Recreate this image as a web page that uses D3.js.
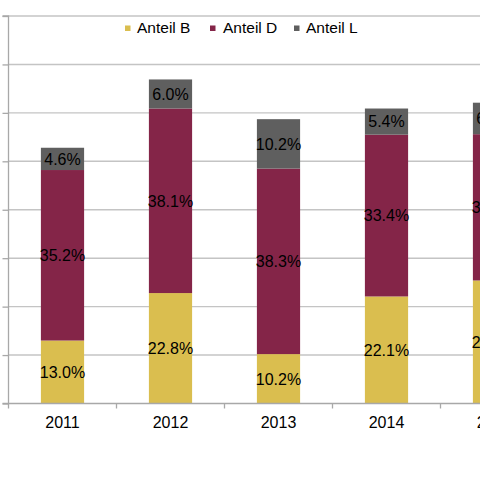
<!DOCTYPE html>
<html>
<head>
<meta charset="utf-8">
<script src="https://cdn.jsdelivr.net/npm/d3@7/dist/d3.min.js"></script>
<style>
html,body{margin:0;padding:0;background:#fff;overflow:hidden;}
svg{display:block;font-family:"Liberation Sans",Arial,sans-serif;}
</style>
</head>
<body>
<svg id="chart" width="480" height="480"></svg>
<script>
const years = ["2011","2012","2013","2014","2015"];
const anteilB = [13.0,22.8,10.2,22.1,25.4];
const anteilD = [35.2,38.1,38.3,33.4,30.2];
const anteilL = [4.6,6.0,10.2,5.4,6.5];
const seriesNames = ["Anteil B","Anteil D","Anteil L"];
const seriesColors = ["#DABE4F","#842548","#5F5F5F"];
const yTicks = [0,10,20,30,40,50,60,70,80];

(function(){
const svg = d3.select("#chart");
const plotLeft = 8.5, plotTop = 16, plotBottom = 403.5, step = 108;

const x = d3.scaleBand().domain(years)
  .range([plotLeft, plotLeft + step*years.length])
  .paddingInner(0.6).paddingOuter(0.3);
const y = d3.scaleLinear().domain([0,80]).range([plotBottom, plotTop]);

// gridlines
svg.append("g").selectAll("line").data(yTicks.filter(d=>d>0)).join("line")
  .attr("x1", plotLeft).attr("x2", 480)
  .attr("y1", d=>y(d)).attr("y2", d=>y(d))
  .attr("stroke","#c4c4c4").attr("stroke-width",1.4);

// stacked data
const table = years.map((yr,i)=>({year:yr, "Anteil B":anteilB[i], "Anteil D":anteilD[i], "Anteil L":anteilL[i]}));
const stack = d3.stack().keys(seriesNames)(table);

const fmt = v => v.toFixed(1) + "%";

stack.forEach((layer, si) => {
  const g = svg.append("g");
  g.selectAll("rect").data(layer).join("rect")
    .attr("x", d=>x(d.data.year))
    .attr("width", x.bandwidth())
    .attr("y", d=>y(d[1]))
    .attr("height", d=>y(d[0]) - y(d[1]))
    .attr("fill", seriesColors[si]);
  g.selectAll("text").data(layer).join("text")
    .attr("x", d=>x(d.data.year) + x.bandwidth()/2)
    .attr("y", d=>(y(d[0]) + y(d[1]))/2)
    .attr("dy","0.36em")
    .attr("text-anchor","middle")
    .attr("font-size","16px")
    .attr("fill","#000")
    .text(d=>fmt(d[1]-d[0]));
});

// left axis
const yAxis = d3.axisLeft(y).tickValues(yTicks).tickSize(6).tickFormat("");
const ga = svg.append("g").attr("transform",`translate(${plotLeft},0)`).call(yAxis);
ga.selectAll("path,line").attr("stroke","#a8a8a8").attr("stroke-width",1.3);
ga.select(".domain").attr("d", `M-6,${plotTop}H0V${plotBottom}H-6`);

// bottom axis
svg.append("line").attr("x1",plotLeft).attr("x2",480).attr("y1",plotBottom).attr("y2",plotBottom)
  .attr("stroke","#a8a8a8").attr("stroke-width",1.3);
const boundaries = d3.range(years.length+1).map(i => plotLeft + i*x.step());
svg.append("g").selectAll("line").data(boundaries).join("line")
  .attr("x1",d=>d).attr("x2",d=>d).attr("y1",plotBottom).attr("y2",plotBottom+5)
  .attr("stroke","#a8a8a8").attr("stroke-width",1.3);
svg.append("g").selectAll("text").data(years).join("text")
  .attr("x", d=>x(d)+x.bandwidth()/2)
  .attr("y", 427.5)
  .attr("text-anchor","middle")
  .attr("font-size","16px")
  .attr("fill","#000")
  .text(d=>d);

// legend
const legendPos = [{sx:125, tx:137},{sx:210, tx:223},{sx:294, tx:306}];
const lg = svg.append("g");
seriesNames.forEach((n,i)=>{
  lg.append("rect").attr("x",legendPos[i].sx).attr("y",25.5).attr("width",5.5).attr("height",5.5)
    .attr("fill",seriesColors[i]);
  lg.append("text").attr("x",legendPos[i].tx).attr("y",32.5)
    .attr("font-size","15.5px").attr("fill","#000").text(n);
});
})();
</script>
</body>
</html>
